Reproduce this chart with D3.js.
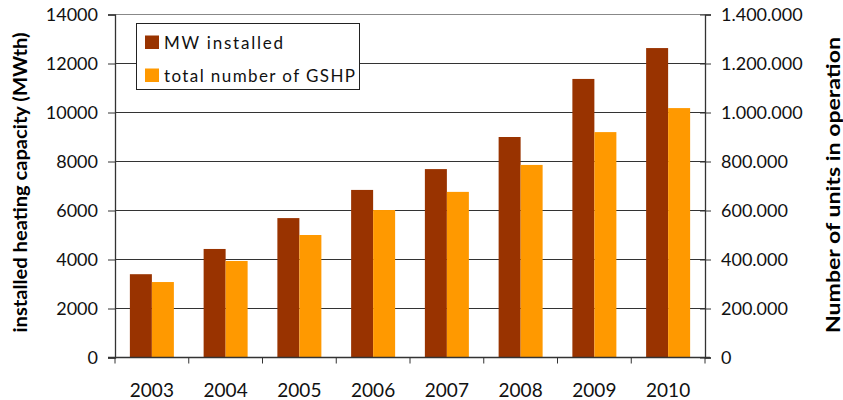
<!DOCTYPE html>
<html>
<head>
<meta charset="utf-8">
<script src="https://cdn.jsdelivr.net/npm/d3@7"></script>
<style>
  body { margin: 0; background: #fff; }
  svg { font-family: Lato, "Open Sans", sans-serif; }
</style>
</head>
<body>
<svg id="chart" width="843" height="400"></svg>
<script>
// data
var years = ["2003", "2004", "2005", "2006", "2007", "2008", "2009", "2010"]
var mwInstalled = [3400, 4430, 5690, 6840, 7690, 9000, 11370, 12630]
var unitsGSHP = [308000, 394000, 500000, 602000, 676000, 786000, 920000, 1018000]
var leftTicks = [0, 2000, 4000, 6000, 8000, 10000, 12000, 14000]
var rightTicks = [0, 200000, 400000, 600000, 800000, 1000000, 1200000, 1400000]
var seriesNames = ["MW installed", "total number of GSHP"]
var colors = ["#993300", "#ff9900"]

var svg = d3.select("#chart")
// plot box (top is taken by window.top, so pTop)
var pLeft = 115, pRight = 705, pTop = 14.5, pBottom = 357.5

var xBand = d3.scaleBand().domain(years).range([pLeft, pRight])
var yL = d3.scaleLinear().domain([0, 14000]).range([pBottom, pTop])
var yR = d3.scaleLinear().domain([0, 1400000]).range([pBottom, pTop])

// gridlines
svg.append("g").selectAll("line")
  .data(leftTicks.slice(1))
  .enter().append("line")
  .attr("x1", pLeft).attr("x2", pRight)
  .attr("y1", function(d){ return yL(d) }).attr("y2", function(d){ return yL(d) })
  .attr("stroke", function(d){ return d == 14000 ? "#888" : "#333" })
  .attr("stroke-width", 1.2)

// bars
var bw = 22
var g = svg.append("g")
years.forEach(function(yr, i){
  var cx = xBand(yr) + xBand.bandwidth()/2
  g.append("rect")
    .attr("x", cx - bw).attr("width", bw)
    .attr("y", yL(mwInstalled[i])).attr("height", pBottom - yL(mwInstalled[i]))
    .attr("fill", colors[0])
  g.append("rect")
    .attr("x", cx).attr("width", bw)
    .attr("y", yR(unitsGSHP[i])).attr("height", pBottom - yR(unitsGSHP[i]))
    .attr("fill", colors[1])
})

// left axis
var axL = svg.append("g").attr("transform", "translate(" + pLeft + ",0)")
  .call(d3.axisLeft(yL).tickValues(leftTicks).tickSize(7).tickPadding(10).tickFormat(d3.format("d")))
axL.select(".domain").attr("stroke", "#333").attr("stroke-width", 1.3)
axL.selectAll(".tick line").attr("stroke", "#333")
axL.selectAll("text").attr("font-size", 18).attr("fill", "#111").attr("font-family", "Lato, sans-serif")

// right axis
var fmtDots = function(d){ return d3.format(",")(d).replace(/,/g, ".") }
var axR = svg.append("g").attr("transform", "translate(" + pRight + ",0)")
  .call(d3.axisRight(yR).tickValues(rightTicks).tickSize(6).tickPadding(10).tickFormat(fmtDots))
axR.select(".domain").attr("stroke", "#333").attr("stroke-width", 1.3)
axR.selectAll(".tick line").attr("stroke", "#333").attr("x1", -5)
axR.selectAll("text").attr("font-size", 18).attr("fill", "#111").attr("font-family", "Lato, sans-serif")

// x axis
svg.append("line").attr("x1", pLeft - 7).attr("x2", pRight + 5)
  .attr("y1", pBottom).attr("y2", pBottom).attr("stroke", "#333").attr("stroke-width", 1.5)
svg.append("g").selectAll("line")
  .data(years.concat(["end"]))
  .enter().append("line")
  .attr("x1", function(d, i){ return pLeft + i * xBand.bandwidth() })
  .attr("x2", function(d, i){ return pLeft + i * xBand.bandwidth() })
  .attr("y1", pBottom).attr("y2", pBottom + 6)
  .attr("stroke", "#333")
svg.append("g").selectAll("text")
  .data(years)
  .enter().append("text")
  .attr("x", function(d){ return xBand(d) + xBand.bandwidth()/2 })
  .attr("y", 396.5)
  .attr("text-anchor", "middle")
  .attr("font-size", 19).attr("fill", "#111")
  .text(function(d){ return d })

// axis titles
svg.append("text")
  .attr("transform", "translate(27,182.5) rotate(-90)")
  .attr("text-anchor", "middle").attr("font-weight", "bold").attr("font-size", 18)
  .attr("textLength", 300).attr("lengthAdjust", "spacingAndGlyphs")
  .text("installed heating capacity (MWth)")
svg.append("text")
  .attr("transform", "translate(839.5,185) rotate(-90)")
  .attr("text-anchor", "middle").attr("font-weight", "bold").attr("font-size", 18)
  .attr("textLength", 296).attr("lengthAdjust", "spacingAndGlyphs")
  .text("Number of units in operation")

// legend
var lg = svg.append("g")
lg.append("rect").attr("x", 136.5).attr("y", 23.5).attr("width", 223).attr("height", 66)
  .attr("fill", "#fff").attr("stroke", "#222").attr("stroke-width", 1)
var legendLen = [119, 191]
seriesNames.forEach(function(n, i){
  lg.append("rect").attr("x", 145).attr("y", 35.5 + i * 33).attr("width", 14).attr("height", 13.5).attr("fill", colors[i])
  lg.append("text").attr("x", 164).attr("y", 49 + i * 33)
    .attr("font-size", 17).attr("fill", "#111")
    .attr("textLength", legendLen[i]).attr("lengthAdjust", "spacing")
    .text(n)
})
</script>
</body>
</html>
